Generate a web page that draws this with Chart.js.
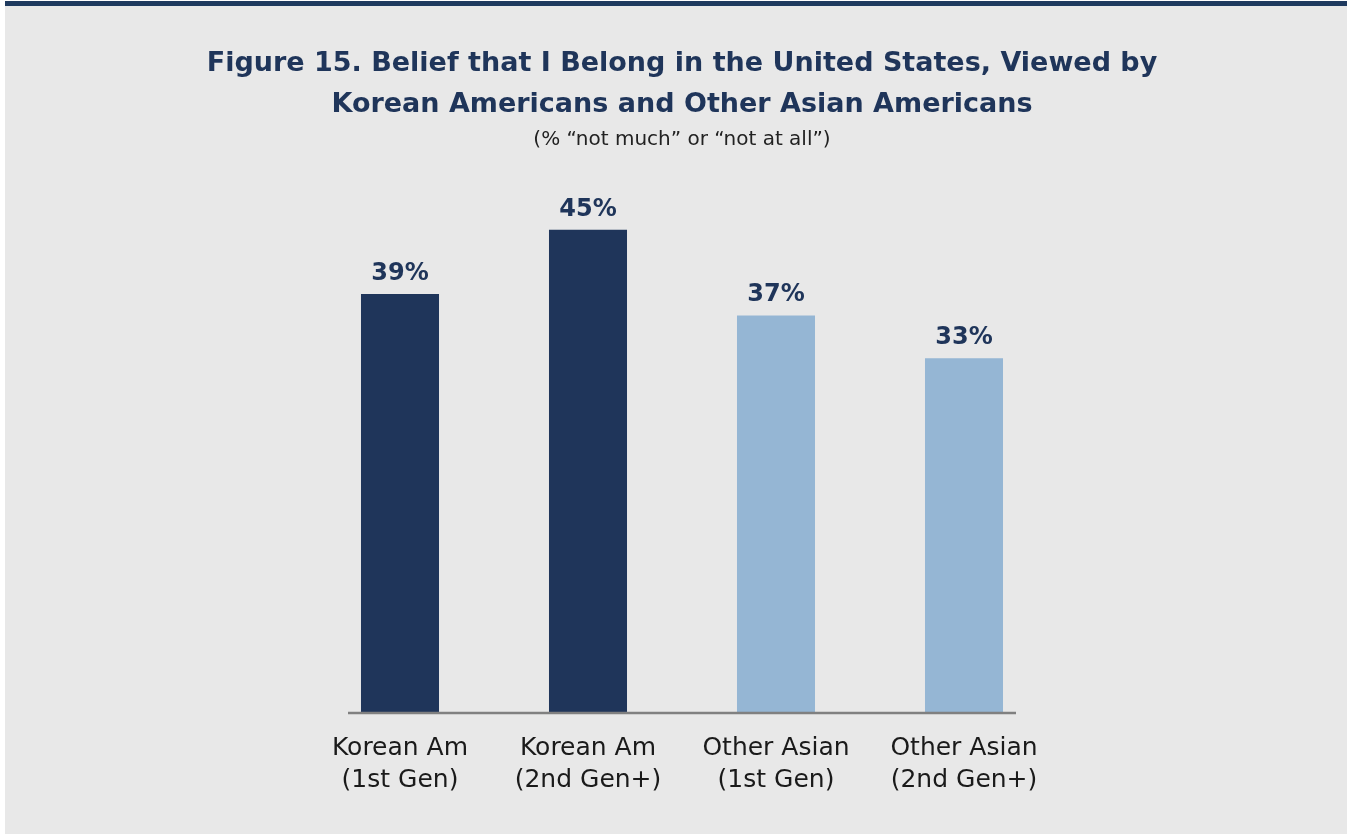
<!DOCTYPE html>
<html>
<head>
<meta charset="utf-8">
<script src="https://cdn.jsdelivr.net/npm/chart.js@4.4.1/dist/chart.umd.min.js"></script>
<style>
  html, body { margin: 0; padding: 0; background: #ffffff; }
  #panel {
    position: absolute; left: 5px; top: 1px; width: 1342px; height: 833px;
    background: #e8e8e8; border-top: 5px solid #1f3a5f; box-sizing: border-box;
  }
  #wrap { position: absolute; left: 0; top: 0; width: 1342px; height: 828px; }
</style>
</head>
<body>
<div id="panel"><div id="wrap"><canvas id="chart"></canvas></div></div>
<script>
var categories = [
  ['Korean Am', '(1st Gen)'],
  ['Korean Am', '(2nd Gen+)'],
  ['Other Asian', '(1st Gen)'],
  ['Other Asian', '(2nd Gen+)']
];
var notBelonging = [39, 45, 37, 33];
var barColors = ['#1f355a', '#1f355a', '#95b6d4', '#95b6d4'];

var navy = '#1f355a';
var face = '"DejaVu Sans", "Open Sans", sans-serif';

// value labels above each bar
var valueLabels = {
  id: 'valueLabels',
  afterDatasetsDraw: function(chart) {
    var ctx = chart.ctx;
    var meta = chart.getDatasetMeta(0);
    ctx.save();
    ctx.fillStyle = navy;
    ctx.font = 'bold 24px ' + face;
    ctx.textAlign = 'center';
    ctx.textBaseline = 'alphabetic';
    meta.data.forEach(function(bar, i) {
      ctx.fillText(notBelonging[i] + '%', bar.x, bar.y - 14);
    });
    ctx.restore();
  }
};

// grey baseline running a little past the outer bars
var baseline = {
  id: 'baseline',
  afterDatasetsDraw: function(chart) {
    var x = chart.scales.x, y = chart.scales.y;
    var ctx = chart.ctx;
    var y0 = y.getPixelForValue(0) + 1;
    ctx.save();
    ctx.strokeStyle = '#808080';
    ctx.lineWidth = 2.5;
    ctx.beginPath();
    ctx.moveTo(x.getPixelForValue(0) - 52, y0);
    ctx.lineTo(x.getPixelForValue(categories.length - 1) + 52, y0);
    ctx.stroke();
    ctx.restore();
  }
};

// empty side axes keep the bars in a narrow band without squeezing the title
function sideAxis(position, width) {
  return {
    type: 'linear',
    position: position,
    display: true,
    grid: { display: false, drawTicks: false },
    border: { display: false },
    ticks: { display: false },
    afterFit: function(scale) { scale.width = width; }
  };
}

var leftAxis = sideAxis('left', 289);
leftAxis.min = 0;
leftAxis.max = 50;

new Chart(document.getElementById('chart'), {
  type: 'bar',
  data: {
    labels: categories,
    datasets: [{
      data: notBelonging,
      backgroundColor: barColors,
      categoryPercentage: 1,
      barPercentage: 0.415
    }]
  },
  options: {
    responsive: true,
    maintainAspectRatio: false,
    animation: false,
    layout: { padding: { left: 12, right: 0, top: 37, bottom: 17 } },
    plugins: {
      legend: { display: false },
      tooltip: { enabled: false },
      title: {
        display: true,
        text: ['Figure 15. Belief that I Belong in the United States, Viewed by',
               'Korean Americans and Other Asian Americans'],
        color: navy,
        font: { family: face, size: 27, weight: 'bold', lineHeight: 1.52 },
        padding: { top: 0, bottom: 3 }
      },
      subtitle: {
        display: true,
        text: '(% \u201cnot much\u201d or \u201cnot at all\u201d)',
        color: '#222222',
        font: { family: face, size: 20, lineHeight: 1.2 },
        padding: { top: 0, bottom: 24 }
      }
    },
    scales: {
      x: {
        grid: { display: false, drawTicks: false },
        border: { display: false },
        ticks: {
          color: '#1a1a1a',
          font: { family: face, size: 25, weight: 'normal', lineHeight: 1.3 },
          padding: 20,
          maxRotation: 0
        }
      },
      y: leftAxis,
      yr: sideAxis('right', 289)
    }
  },
  plugins: [valueLabels, baseline]
});
</script>
</body>
</html>
